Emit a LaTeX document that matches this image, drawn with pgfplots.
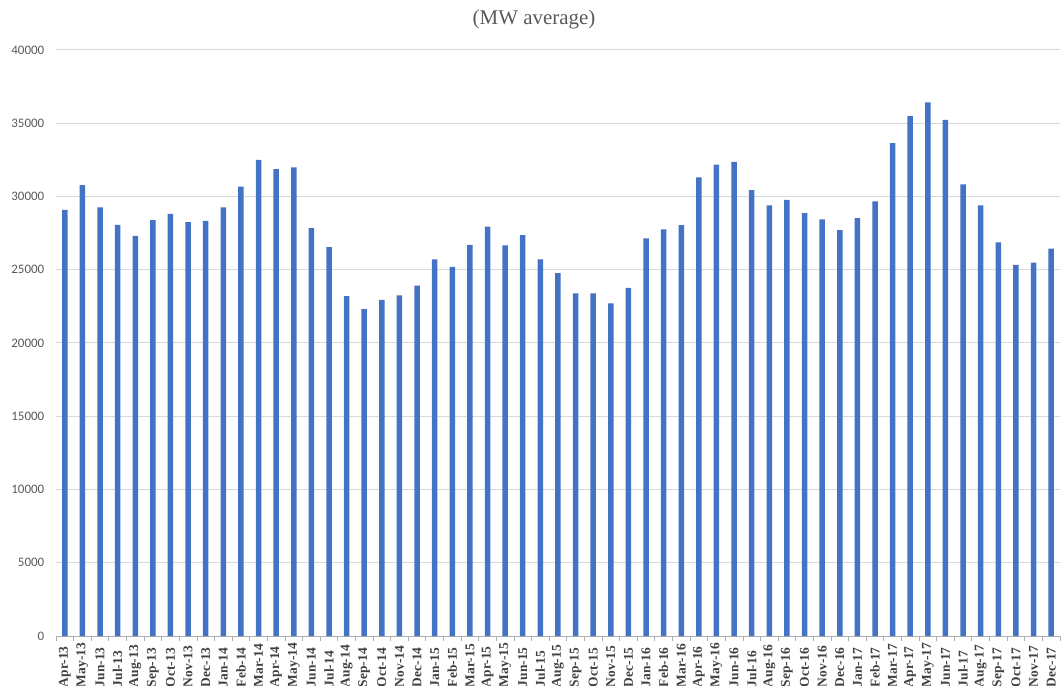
\documentclass[border=0pt]{standalone}
\usepackage{pgfplots}
\pgfplotsset{compat=1.18}
\usepackage{fontspec}
\setmainfont{Liberation Serif}
\newfontfamily\tickfont{Carlito}
\definecolor{barblue}{HTML}{4472C4}
\definecolor{gridgray}{HTML}{D9D9D9}
\definecolor{txtgray}{HTML}{595959}
\definecolor{lblgray}{HTML}{404040}
\begin{document}
\begin{tikzpicture}
\useasboundingbox (-56bp,-50bp) rectangle (1005bp,636bp);
\begin{axis}[
  scale only axis,
  width=1004bp, height=586bp,
  xmin=-0.5, xmax=56.5,
  ymin=0, ymax=40000,
  ytick={0,5000,...,40000},
  scaled y ticks=false,
  /pgf/number format/assume math mode=true,
  /pgf/number format/1000 sep={},
  yticklabel style={font=\tickfont\fontsize{13}{13}\selectfont, text=txtgray, xshift=-4bp},
  ymajorgrids=true,
  grid style={draw=gridgray, line width=1bp},
  axis lines*=left,
  y axis line style={draw=none},
  x axis line style={draw=gridgray!80!black, line width=1bp},
  ytick style={draw=none},
  xtick={0,...,56},
  major x tick style={draw=none},
  minor xtick={-0.5,0.5,...,56.5},
  minor x tick style={draw=gridgray!80!black, line width=0.8bp},
  minor tick length=5bp,
  tick align=outside,
  xticklabels={Apr-13,May-13,Jun-13,Jul-13,Aug-13,Sep-13,Oct-13,Nov-13,Dec-13,
    Jan-14,Feb-14,Mar-14,Apr-14,May-14,Jun-14,Jul-14,Aug-14,Sep-14,Oct-14,Nov-14,Dec-14,
    Jan-15,Feb-15,Mar-15,Apr-15,May-15,Jun-15,Jul-15,Aug-15,Sep-15,Oct-15,Nov-15,Dec-15,
    Jan-16,Feb-16,Mar-16,Apr-16,May-16,Jun-16,Jul-16,Aug-16,Sep-16,Oct-16,Nov-16,Dec-16,
    Jan-17,Feb-17,Mar-17,Apr-17,May-17,Jun-17,Jul-17,Aug-17,Sep-17,Oct-17,Nov-17,Dec-17},
  xticklabel style={yshift=-47bp, rotate=90, anchor=west, inner sep=0pt,
    font=\bfseries\fontsize{13.5}{13.5}\selectfont, text=lblgray},
  ybar, bar width=5.5bp,
  clip=false,
]
\addplot[fill=barblue, draw=none] coordinates {
(0,29090) (1,30770) (2,29250) (3,28070) (4,27320) (5,28390) (6,28820) (7,28250) (8,28340)
(9,29250) (10,30680) (11,32500) (12,31860) (13,31980) (14,27840) (15,26550) (16,23200)
(17,22320) (18,22950) (19,23250) (20,23910)
(21,25700) (22,25200) (23,26700) (24,27950) (25,26660) (26,27360) (27,25700) (28,24770)
(29,23390) (30,23390) (31,22700) (32,23770)
(33,27140) (34,27750) (35,28050) (36,31300) (37,32180) (38,32360) (39,30430) (40,29390)
(41,29770) (42,28860) (43,28430) (44,27700)
(45,28520) (46,29660) (47,33640) (48,35480) (49,36430) (50,35230) (51,30820) (52,29390)
(53,26860) (54,25340) (55,25480) (56,26450)
};
\end{axis}
\node[text=txtgray, font=\fontsize{21}{21}\selectfont] at (478bp,616bp) {(MW average)};
\end{tikzpicture}
\end{document}
